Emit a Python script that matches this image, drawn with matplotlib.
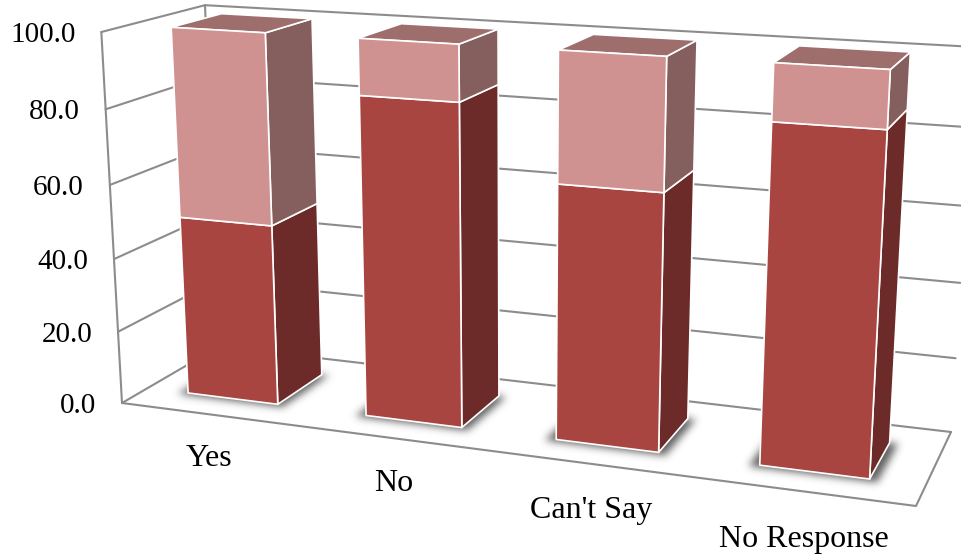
import numpy as np
import matplotlib
matplotlib.use("Agg")
import matplotlib.pyplot as plt
from matplotlib.path import Path

# Chart values
categories = ["Yes", "No", "Can't Say", "No Response"]
lower_values = [49.3, 85.5, 66.8, 86.0]
upper_values = [50.7, 14.5, 33.2, 14.0]
value_ticks = [0, 20, 40, 60, 80, 100]

# Camera: floor corners (category, depth) seen on the canvas, plus the
# vanishing point of the vertical direction and the top of the value axis.
FLOOR_VIEW = {(0, 0): (122, 403), (4, 0): (916, 506), (4, 1): (951, 432), (0, 1): (219.2, 346.4)}
VERTICAL_VANISH = (516, 7477)
AXIS_TOP_Y = 32
VALUE_MAX = 100.0

COL_LOWER = {"front": "#A94541", "side": "#6C2A28", "top": "#6C2A28"}
COL_UPPER = {"front": "#D09191", "side": "#855F5D", "top": "#9E6E6D"}
GRID = "#8C8C8C"
FONT = "Liberation Serif"
WIDTH, HEIGHT = 962, 559


def camera_matrix():
    rows, rhs = [], []
    for (x, z), (u, v) in FLOOR_VIEW.items():
        rows.append([x, z, 1, 0, 0, 0, -u * x, -u * z])
        rhs.append(u)
        rows.append([0, 0, 0, x, z, 1, -v * x, -v * z])
        rhs.append(v)
    h = np.linalg.solve(np.array(rows, float), np.array(rhs, float))
    H = np.array([h[:3], h[3:6], [h[6], h[7], 1.0]])
    o = H[:, 2]
    vx, vy = VERTICAL_VANISH
    beta = (AXIS_TOP_Y - o[1]) / (vy - AXIS_TOP_Y)
    ycol = beta * np.array([vx, vy, 1.0]) / VALUE_MAX
    return np.column_stack([H[:, 0], ycol, H[:, 1], o])


CAM = camera_matrix()


def project(x, y, z):
    p = CAM @ np.array([x, y, z, 1.0])
    return p[0] / p[2], p[1] / p[2]


def quad(*pts):
    return np.array([project(*p) for p in pts])


fig = plt.figure(figsize=(WIDTH / 100, HEIGHT / 100), dpi=100)
ax = fig.add_axes([0, 0, 1, 1])
ax.set_xlim(0, WIDTH)
ax.set_ylim(HEIGHT, 0)
ax.axis("off")

# Walls and floor
line_kw = dict(color=GRID, lw=1.5, solid_capstyle="round", zorder=1)
for tick in value_ticks:
    pts = quad((0, tick, 0), (0, tick, 1), (4, tick, 1))
    ax.plot(pts[:, 0], pts[:, 1], **line_kw)
for path in [((0, 0, 0), (0, 100, 0)), ((0, 0, 1), (0, 100, 1)),
             ((0, 0, 0), (4, 0, 0), (4, 0, 1))]:
    pts = quad(*path)
    ax.plot(pts[:, 0], pts[:, 1], **line_kw)

for tick in value_ticks:
    u, v = project(0, tick, 0)
    ax.text(u - 26, v, f"{tick:.1f}", ha="right", va="center_baseline",
            fontsize=21, family=FONT, color="black")

X0, X1, Z0, Z1 = 0.235, 0.747, 0.25, 0.75


def draw_box(i, y0, y1, colors, with_top):
    a, b = i + X0, i + X1
    side = quad((b, y0, Z0), (b, y0, Z1), (b, y1, Z1), (b, y1, Z0))
    front = quad((a, y0, Z0), (b, y0, Z0), (b, y1, Z0), (a, y1, Z0))
    kw = dict(edgecolor="white", linewidth=1.2, joinstyle="round", zorder=4)
    ax.fill(side[:, 0], side[:, 1], facecolor=colors["side"], **kw)
    if with_top:
        top = quad((a, y1, Z0), (b, y1, Z0), (b, y1, Z1), (a, y1, Z1))
        ax.fill(top[:, 0], top[:, 1], facecolor=colors["top"], **kw)
    ax.fill(front[:, 0], front[:, 1], facecolor=colors["front"], **kw)


def gaussian_blur(img, sigma):
    r = int(3 * sigma)
    kernel = np.exp(-0.5 * (np.arange(-r, r + 1) / sigma) ** 2)
    kernel /= kernel.sum()
    img = np.apply_along_axis(np.convolve, 0, img, kernel, mode="same")
    return np.apply_along_axis(np.convolve, 1, img, kernel, mode="same")


# Soft contact shadows under the bars, rasterised on the canvas grid
gx, gy = np.meshgrid(np.arange(WIDTH) + 0.5, np.arange(HEIGHT) + 0.5)
grid_pts = np.column_stack([gx.ravel(), gy.ravel()])
mask = np.zeros((HEIGHT, WIDTH))
for i in range(len(categories)):
    foot = quad((i + X0 - 0.045, 0, Z0 - 0.03), (i + X1 + 0.04, 0, Z0 - 0.03),
                (i + X1 + 0.04, 0, Z1), (i + X0 - 0.045, 0, Z1))
    mask += Path(foot).contains_points(grid_pts).reshape(HEIGHT, WIDTH)
shadow = np.zeros((HEIGHT, WIDTH, 4))
shadow[..., :3] = 0.22
shadow[..., 3] = 0.8 * gaussian_blur(np.clip(mask, 0, 1), 4.0)
ax.imshow(shadow, extent=(0, WIDTH, HEIGHT, 0), zorder=2, interpolation="bilinear", aspect="auto")
ax.set_xlim(0, WIDTH)
ax.set_ylim(HEIGHT, 0)

for i, (low, up) in enumerate(zip(lower_values, upper_values)):
    draw_box(i, 0, low, COL_LOWER, False)
    draw_box(i, low, low + up, COL_UPPER, True)

    u, v = project(i + 0.5, -10.2, -0.06)
    ax.text(u + 4, v, categories[i], ha="center", va="center_baseline",
            fontsize=23, family=FONT, color="black", zorder=5)

fig.savefig("out.png", dpi=100)
